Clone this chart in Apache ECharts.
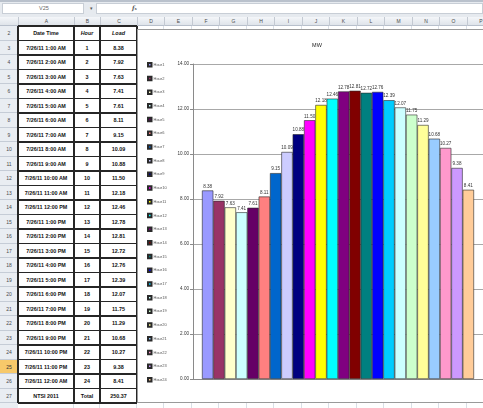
<!DOCTYPE html>
<html><head><meta charset="utf-8">
<script src="https://cdn.jsdelivr.net/npm/echarts/dist/echarts.min.js"></script>
<style>
body{margin:0;width:483px;height:408px;overflow:hidden;background:#fff;position:relative;font-family:"Liberation Sans",Arial,sans-serif}
.abs{position:absolute;box-sizing:border-box}
.ch{font-size:5px;color:#4a4a4a;text-align:center;line-height:9px}
.rh{font-size:5px;color:#4a4a4a;text-align:center;background:#e9edf2;border-bottom:1px solid #c5ccd6}
.cell{font-size:5.4px;font-weight:bold;color:#111;text-align:center;white-space:nowrap}
</style></head><body>
<div id="sheet"></div>
<div id="chartFrame" class="abs" style="left:137px;top:29px;width:360px;height:374px;background:#fff;border:1px solid #9a9a9a;"></div>
<div id="chart" class="abs" style="left:137px;top:29px;width:360px;height:374px;"></div>
<script>
// ---- data ----
var dateTimes = ['7/26/11 1:00 AM','7/26/11 2:00 AM','7/26/11 3:00 AM','7/26/11 4:00 AM','7/26/11 5:00 AM','7/26/11 6:00 AM','7/26/11 7:00 AM','7/26/11 8:00 AM','7/26/11 9:00 AM','7/26/11 10:00 AM','7/26/11 11:00 AM','7/26/11 12:00 PM','7/26/11 1:00 PM','7/26/11 2:00 PM','7/26/11 3:00 PM','7/26/11 4:00 PM','7/26/11 5:00 PM','7/26/11 6:00 PM','7/26/11 7:00 PM','7/26/11 8:00 PM','7/26/11 9:00 PM','7/26/11 10:00 PM','7/26/11 11:00 PM','7/26/11 12:00 AM'];
var hours = [1,2,3,4,5,6,7,8,9,10,11,12,13,14,15,16,17,18,19,20,21,22,23,24];
var loads = [8.38,7.92,7.63,7.41,7.61,8.11,9.15,10.09,10.88,11.50,12.18,12.46,12.78,12.81,12.72,12.76,12.39,12.07,11.75,11.29,10.68,10.27,9.38,8.41];
var seriesNames = ['Hour1','Hour2','Hour3','Hour4','Hour5','Hour6','Hour7','Hour8','Hour9','Hour10','Hour11','Hour12','Hour13','Hour14','Hour15','Hour16','Hour17','Hour18','Hour19','Hour20','Hour21','Hour22','Hour23','Hour24'];
var totalRow = ['NTSI 2011','Total','250.37'];
var yTicks = [0,2,4,6,8,10,12,14];
var colNames = ['A','B','C','D','E','F','G','H','I','J','K','L','M','N','O','P'];
var barColors = ['#9999FF','#993366','#FFFFCC','#CCFFFF','#660066','#FF8080','#0066CC','#CCCCFF','#000080','#FF00FF','#FFFF00','#00FFFF','#800080','#800000','#008080','#0000FF','#00CCFF','#CCFFFF','#CCFFCC','#FFFF99','#99CCFF','#FF99CC','#CC99FF','#FFCC99'];

// ---- spreadsheet chrome ----
var sheet = document.getElementById('sheet');
function box(css, html, cls){var d=document.createElement('div');d.className='abs '+(cls||'');d.style.cssText=css;if(html!==undefined)d.innerHTML=html;sheet.appendChild(d);return d;}
var colX = [0,18,74,100,137,164,192,219,247,274,302,329,357,384,412,439,467,494];
var rowTop = 26, rowH = 14.5;
// formula bar
box('left:0;top:0;width:483px;height:17px;background:#e6eaef;');
box('left:0;top:0;width:483px;height:2px;background:#b9c1cc;');
box('left:2px;top:3px;width:82px;height:11px;background:#fff;border:1px solid #c8ced6;font-size:5.5px;color:#666;line-height:9px;padding-left:36px;','V25');
box('left:86px;top:3px;width:10px;height:11px;font-size:5px;color:#555;line-height:10px;text-align:center;','&#9662;');
box('left:96px;top:3px;width:387px;height:11px;background:#fff;border:1px solid #c8ced6;');
box('left:132px;top:3px;width:10px;height:11px;font-size:6px;font-style:italic;font-weight:bold;color:#555;line-height:10px;font-family:"DejaVu Serif",serif;','f<span style="font-size:4px">x</span>');
// column headers
box('left:0;top:17px;width:483px;height:9px;background:linear-gradient(#f4f6f9,#dfe4ea);border-bottom:1px solid #b8c0cc;');
for (var c=0;c<colNames.length;c++){
  box('left:'+colX[c+1]+'px;top:17px;width:'+(colX[c+2]-colX[c+1])+'px;height:9px;border-left:1px solid #c3c9d2;', colNames[c], 'ch');
}
// row headers + grid
box('left:0;top:26px;width:18px;height:382px;background:#e9edf2;border-right:1px solid #b8c0cc;');
for (var r=0;r<27;r++){
  var yy = rowTop + r*rowH;
  var d = box('left:0;top:'+yy+'px;width:18px;height:'+rowH+'px;line-height:'+rowH+'px;', String(r+2), 'rh');
  if (r+2===25){ d.style.background='#f7c96a'; d.style.color='#333'; }
  box('left:18px;top:'+(yy+rowH-1)+'px;width:465px;height:1px;background:#dadfe6;');
}
for (var c=2;c<colX.length;c++){
  box('left:'+(colX[c]-1)+'px;top:26px;width:1px;height:382px;background:#dadfe6;');
}
// data table A2:C27
var rows = [['Date Time','<i>Hour</i>','<i>Load</i>']];
for (var i=0;i<dateTimes.length;i++) rows.push([dateTimes[i], String(hours[i]), loads[i].toFixed(2)]);
rows.push(totalRow);
box('left:18px;top:26px;width:119px;height:'+(rows.length*rowH)+'px;background:#fff;');
for (var r=0;r<rows.length;r++){
  var yy = rowTop + r*rowH;
  for (var c=0;c<3;c++){
    box('left:'+colX[c+1]+'px;top:'+yy+'px;width:'+(colX[c+2]-colX[c+1])+'px;height:'+rowH+'px;line-height:'+rowH+'px;', rows[r][c], 'cell');
  }
}
for (var r=0;r<=rows.length;r++){
  box('left:18px;top:'+(rowTop + r*rowH - 0.75)+'px;width:119px;height:1.5px;background:#262626;');
}
for (var c=1;c<=4;c++){
  box('left:'+(colX[c]-0.75)+'px;top:26px;width:1.5px;height:'+(rows.length*rowH)+'px;background:#262626;');
}

// ---- chart ----
var chart = echarts.init(document.getElementById('chart'), null, {renderer:'canvas'});
var series = seriesNames.map(function(name, i){
  return {
    name: name, type: 'bar', data: [loads[i]],
    barGap: '0%', barCategoryGap: '6.2%',
    itemStyle: {color: barColors[i], borderColor: '#2a2a2a', borderWidth: 0.6},
    label: {show: true, position: 'top', distance: 1.5, fontSize: 4.6, color: '#333',
      fontFamily: 'Liberation Sans', formatter: function(p){return p.value.toFixed(2);}},
    animation: false
  };
});
chart.setOption({
  animation: false,
  backgroundColor: 'transparent',
  title: {text: 'MW', left: 'center', top: 8, textStyle: {fontSize: 5.5, fontWeight: 'normal', color: '#222', fontFamily: 'Liberation Sans'}},
  legend: {orient: 'vertical', left: 10, top: 33, height: 340, padding: 0, itemWidth: 3.5, itemHeight: 3.5, itemGap: 8.2,
    icon: 'rect',
    data: seriesNames,
    textStyle: {fontSize: 4, color: '#555', fontFamily: 'Liberation Sans', padding: [0,0,0,-3]},
    selectedMode: false},
  grid: {left: 56, right: 14, top: 35, bottom: 24},
  xAxis: {type: 'category', data: ['MW'], axisLabel: {show: false}, axisTick: {show: false},
    axisLine: {lineStyle: {color: '#8a8a8a', width: 1}}},
  yAxis: {type: 'value', min: yTicks[0], max: yTicks[yTicks.length-1], interval: 2,
    axisLine: {show: true, lineStyle: {color: '#8a8a8a', width: 1}},
    axisTick: {show: true, length: 3, lineStyle: {color: '#8a8a8a'}},
    splitLine: {lineStyle: {color: '#a8a8a8', width: 1}},
    axisLabel: {fontSize: 4.6, color: '#333', margin: 4, fontFamily: 'Liberation Sans',
      formatter: function(v){return v.toFixed(2);}}},
  series: series
});
</script>
</body></html>
